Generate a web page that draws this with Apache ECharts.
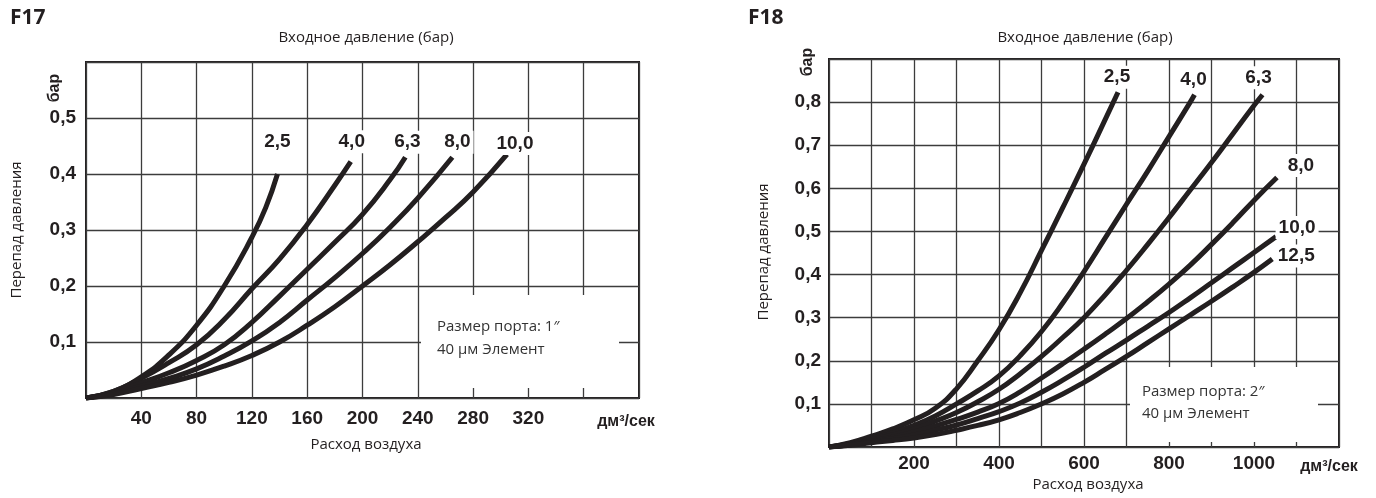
<!DOCTYPE html>
<html>
<head>
<meta charset="utf-8">
<script src="https://cdn.jsdelivr.net/npm/echarts@6/dist/echarts.min.js"></script>
<style>
html,body{margin:0;padding:0;background:#fff;}
#c{width:1376px;height:498px;}
</style>
</head>
<body>
<div id="c"></div>
<script>
// ---------- DATA ----------
// F17 (port 1"), x: dm3/s, y: bar
const f17Names = ['2,5', '4,0', '6,3', '8,0', '10,0'];
const f17_25  = [[0,0],[20,0.012],[40,0.038],[60,0.077],[80,0.13],[100,0.2],[120,0.287],[130,0.34],[138.5,0.4]];
const f17_40  = [[0,0],[20,0.012],[40,0.035],[60,0.063],[80,0.095],[100,0.14],[120,0.195],[140,0.248],[160,0.31],[180,0.38],[191.5,0.422]];
const f17_63  = [[0,0],[20,0.01],[40,0.027],[60,0.045],[80,0.067],[100,0.095],[120,0.135],[140,0.182],[160,0.23],[180,0.278],[200,0.328],[220,0.39],[231,0.43]];
const f17_80  = [[0,0],[20,0.008],[40,0.021],[60,0.035],[80,0.052],[100,0.075],[120,0.102],[140,0.135],[160,0.175],[180,0.215],[200,0.258],[220,0.305],[240,0.357],[265,0.43]];
const f17_100 = [[0,0],[20,0.006],[40,0.017],[60,0.028],[80,0.041],[100,0.057],[120,0.076],[140,0.1],[160,0.13],[180,0.163],[200,0.2],[220,0.238],[240,0.279],[260,0.322],[280,0.368],[304.5,0.435]];

// F18 (port 2")
const f18Names = ['2,5', '4,0', '6,3', '8,0', '10,0', '12,5'];
const f18_25  = [[0,0],[50,0.01],[100,0.025],[150,0.042],[200,0.063],[250,0.09],[300,0.135],[350,0.2],[400,0.272],[450,0.358],[500,0.456],[550,0.555],[600,0.656],[650,0.76],[680,0.823]];
const f18_40  = [[0,0],[50,0.008],[100,0.02],[150,0.033],[200,0.05],[250,0.072],[300,0.1],[350,0.13],[400,0.165],[450,0.212],[500,0.268],[550,0.334],[600,0.407],[650,0.485],[700,0.563],[750,0.64],[800,0.72],[850,0.8],[860,0.817]];
const f18_63  = [[0,0],[50,0.007],[100,0.017],[150,0.028],[200,0.042],[250,0.06],[300,0.08],[350,0.105],[400,0.134],[450,0.17],[500,0.21],[550,0.254],[600,0.3],[650,0.353],[700,0.41],[750,0.47],[800,0.532],[850,0.596],[900,0.66],[950,0.726],[1000,0.792],[1020,0.817]];
const f18_80  = [[0,0],[50,0.006],[100,0.014],[150,0.023],[200,0.035],[250,0.049],[300,0.064],[350,0.081],[400,0.101],[450,0.128],[500,0.16],[550,0.193],[600,0.227],[650,0.262],[700,0.298],[750,0.337],[800,0.378],[850,0.422],[900,0.47],[950,0.52],[1000,0.572],[1054,0.625]];
const f18_100 = [[0,0],[50,0.005],[100,0.012],[150,0.019],[200,0.028],[250,0.039],[300,0.051],[350,0.066],[400,0.082],[450,0.102],[500,0.127],[550,0.155],[600,0.185],[650,0.217],[700,0.248],[750,0.28],[800,0.312],[850,0.346],[900,0.381],[950,0.416],[1000,0.451],[1052,0.488]];
const f18_125 = [[0,0],[50,0.004],[100,0.01],[150,0.015],[200,0.021],[250,0.029],[300,0.039],[350,0.05],[400,0.063],[450,0.08],[500,0.1],[550,0.123],[600,0.15],[650,0.18],[700,0.21],[750,0.242],[800,0.274],[850,0.306],[900,0.338],[950,0.371],[1000,0.405],[1043,0.436]];

// ---------- STYLE ----------
const f17Series = [f17_25, f17_40, f17_63, f17_80, f17_100];
const f18Series = [f18_25, f18_40, f18_63, f18_80, f18_100, f18_125];
const f17LabelOffsets = [[0,-32],[1,-20],[2,-15],[5,-15],[8,-11]];
const f18LabelOffsets = [[-1,-15],[-1,-15],[-4,-17],[24,-12],[21,-9],[24,-3]];

const INK = '#231f20';
const BOLD = '"Liberation Sans", Arial, sans-serif';
const PLAIN = '"Open Sans", "Noto Sans", sans-serif';

const chart = echarts.init(document.getElementById('c'), null, {renderer: 'canvas'});

function comma(v){ return v.toFixed(1).replace('.', ','); }

function mkLine(name, data, xi, off){
  return {
    type: 'line', name: name, xAxisIndex: xi, yAxisIndex: xi,
    data: data, smooth: 0.5,
    showSymbol: false, symbol: 'none',
    lineStyle: {color: INK, width: 5, cap: 'butt', join: 'round'},
    z: 5, animation: false,
    endLabel: {
      show: true, formatter: name, distance: 0, offset: off,
      align: 'center', verticalAlign: 'middle',
      fontFamily: BOLD, fontWeight: 'bold', fontSize: 19, color: INK,
      backgroundColor: '#fff', padding: [3, 3, 1, 3]
    }
  };
}

const series = [];
f17Series.forEach((d, i) => series.push(mkLine(f17Names[i], d, 0, f17LabelOffsets[i])));
f18Series.forEach((d, i) => series.push(mkLine(f18Names[i], d, 1, f18LabelOffsets[i])));

const splitLine = {show: true, lineStyle: {color: '#3c3c3c', width: 1.3}};
const tickFont = {fontFamily: BOLD, fontWeight: 'bold', fontSize: 19, color: INK};

function txt(x, y, s, font, size, weight, extra){
  return Object.assign({
    type: 'text', x: x, y: y, z: 20,
    style: {text: s, font: (weight || 'normal') + ' ' + size + 'px ' + font, fill: INK,
            textAlign: 'center', textVerticalAlign: 'middle'}
  }, extra || {});
}

const option = {
  backgroundColor: '#fff',
  animation: false,
  grid: [
    {left: 86, top: 62, width: 553, height: 336, show: true, borderColor: INK, borderWidth: 2, backgroundColor: 'transparent'},
    {left: 829, top: 59, width: 510, height: 388, show: true, borderColor: INK, borderWidth: 2, backgroundColor: 'transparent'}
  ],
  xAxis: [
    {type: 'value', gridIndex: 0, min: 0, max: 400, interval: 40,
     axisLine: {show: false}, axisTick: {show: false}, splitLine: splitLine,
     axisLabel: Object.assign({margin: 11, formatter: v => (v > 0 && v <= 320) ? String(v) : ''}, tickFont)},
    {type: 'value', gridIndex: 1, min: 0, max: 1200, interval: 100,
     axisLine: {show: false}, axisTick: {show: false}, splitLine: splitLine,
     axisLabel: Object.assign({margin: 7, formatter: v => (v > 0 && v <= 1000 && v % 200 === 0) ? String(v) : ''}, tickFont)}
  ],
  yAxis: [
    {type: 'value', gridIndex: 0, min: 0, max: 0.6, interval: 0.1,
     axisLine: {show: false}, axisTick: {show: false}, splitLine: splitLine,
     axisLabel: Object.assign({margin: 10, formatter: v => (v > 0.05 && v < 0.55) ? comma(v) : ''}, tickFont)},
    {type: 'value', gridIndex: 1, min: 0, max: 0.9, interval: 0.1,
     axisLine: {show: false}, axisTick: {show: false}, splitLine: splitLine,
     axisLabel: Object.assign({margin: 8, formatter: v => (v > 0.05 && v < 0.85) ? comma(v) : ''}, tickFont)}
  ],
  series: series,
  graphic: [
    {type: 'text', z: 20, x: 10, y: 18, style: {text: 'F17', font: 'bold 21px ' + PLAIN, fill: INK, textAlign: 'left', textVerticalAlign: 'middle'}},
    {type: 'text', z: 20, x: 748, y: 18, style: {text: 'F18', font: 'bold 21px ' + PLAIN, fill: INK, textAlign: 'left', textVerticalAlign: 'middle'}},
    txt(366, 38, 'Входное давление (бар)', PLAIN, 15),
    txt(1085, 38, 'Входное давление (бар)', PLAIN, 15),
    txt(366, 445, 'Расход воздуха', PLAIN, 15),
    txt(1088, 485, 'Расход воздуха', PLAIN, 15),
    txt(626, 422, 'дм³/сек', BOLD, 16, 'bold'),
    txt(1329, 467, 'дм³/сек', BOLD, 16, 'bold'),
    txt(17, 230, 'Перепад давления', PLAIN, 15, 'normal', {rotation: Math.PI / 2}),
    txt(764, 252, 'Перепад давления', PLAIN, 15, 'normal', {rotation: Math.PI / 2}),
    txt(55, 88, 'бар', BOLD, 16, 'bold', {rotation: Math.PI / 2}),
    txt(808, 62, 'бар', BOLD, 16, 'bold', {rotation: Math.PI / 2}),
    {type: 'rect', z: 15, shape: {x: 421, y: 295, width: 198, height: 93}, style: {fill: '#fff'}},
    {type: 'text', z: 20, x: 437, y: 327, style: {text: 'Размер порта: 1″', font: '15px ' + PLAIN, fill: '#333', textAlign: 'left', textVerticalAlign: 'middle'}},
    {type: 'text', z: 20, x: 437, y: 350, style: {text: '40 µм Элемент', font: '15px ' + PLAIN, fill: '#333', textAlign: 'left', textVerticalAlign: 'middle'}},
    {type: 'rect', z: 15, shape: {x: 1130, y: 367, width: 188, height: 75}, style: {fill: '#fff'}},
    {type: 'text', z: 20, x: 1142, y: 392, style: {text: 'Размер порта: 2″', font: '15px ' + PLAIN, fill: '#333', textAlign: 'left', textVerticalAlign: 'middle'}},
    {type: 'text', z: 20, x: 1142, y: 414, style: {text: '40 µм Элемент', font: '15px ' + PLAIN, fill: '#333', textAlign: 'left', textVerticalAlign: 'middle'}}
  ]
};
chart.setOption(option);
</script>
</body>
</html>
